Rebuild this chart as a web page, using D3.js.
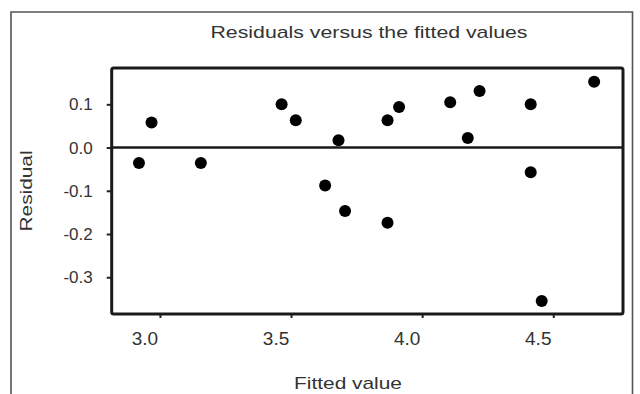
<!DOCTYPE html>
<html>
<head>
<meta charset="utf-8">
<script src="https://cdn.jsdelivr.net/npm/d3@7"></script>
<style>
  html, body { margin: 0; padding: 0; background: #fff; }
  svg { display: block; }
  text { font-family: "Liberation Sans", Arial, sans-serif; fill: #333; }
</style>
</head>
<body>
<svg id="chart" width="640" height="394"></svg>
<script>
const titleText = "Residuals versus the fitted values";
const xLabel = "Fitted value";
const yLabel = "Residual";
const fitted = [2.920, 2.968, 3.156, 3.464, 3.518, 3.630, 3.681, 3.706, 3.868, 3.868, 3.912, 4.107, 4.174, 4.219, 4.414, 4.414, 4.456, 4.656];
const residual = [-0.036, 0.058, -0.036, 0.100, 0.063, -0.088, 0.017, -0.147, -0.174, 0.063, 0.094, 0.105, 0.022, 0.131, 0.100, -0.057, -0.355, 0.152];
const xTicks = [3.0, 3.5, 4.0, 4.5];
const yTicks = [0.1, 0.0, -0.1, -0.2, -0.3];
const xDomain = [2.816, 4.766];
const yDomain = [-0.385, 0.184];

const svg = d3.select("#chart");
const L = 111.7, R = 623, T = 68, B = 314;
const x = d3.scaleLinear().domain(xDomain).range([L, R]);
const y = d3.scaleLinear().domain(yDomain).range([B, T]);
const fmt = d => d.toFixed(1);

// outer frame
svg.append("path")
  .attr("d", "M11,394 V12 H632.5 V394")
  .attr("fill", "none").attr("stroke", "#555").attr("stroke-width", 1.6);

// title
svg.append("text").attr("x", 369).attr("y", 38)
  .attr("text-anchor", "middle").attr("font-size", 17)
  .attr("textLength", 317).attr("lengthAdjust", "spacingAndGlyphs")
  .text(titleText);

// axes
const xAxis = svg.append("g").attr("transform", `translate(0,${B})`)
  .call(d3.axisBottom(x).tickValues(xTicks).tickFormat(fmt).tickSizeInner(4).tickSizeOuter(0));
const yAxis = svg.append("g").attr("transform", `translate(${L},0)`)
  .call(d3.axisLeft(y).tickValues(yTicks).tickFormat(fmt).tickSizeInner(5).tickSizeOuter(0));
[xAxis, yAxis].forEach(g => {
  g.select(".domain").remove();
  g.selectAll(".tick line").attr("stroke", "#222").attr("stroke-width", 2);
  g.selectAll(".tick text").attr("fill", "#333")
    .style("font-family", "'Liberation Sans', Arial, sans-serif");
});
xAxis.selectAll(".tick text").attr("font-size", 19).attr("dx", -15.5).attr("y", 31).attr("dy", 0);
yAxis.selectAll(".tick text").attr("font-size", 17).attr("x", -19);

// zero line
svg.append("line").attr("x1", L).attr("x2", R).attr("y1", y(0)).attr("y2", y(0))
  .attr("stroke", "#1a1a1a").attr("stroke-width", 2.6);

// plot box
svg.append("rect").attr("x", L).attr("y", T).attr("width", R - L).attr("height", B - T)
  .attr("rx", 2).attr("fill", "none").attr("stroke", "#1a1a1a").attr("stroke-width", 3);

// points
svg.append("g").selectAll("circle").data(fitted.map((f, i) => [f, residual[i]]))
  .join("circle")
  .attr("cx", d => x(d[0])).attr("cy", d => y(d[1])).attr("r", 6)
  .attr("fill", "#000");

// axis labels
svg.append("text").attr("x", 348).attr("y", 389)
  .attr("text-anchor", "middle").attr("font-size", 17)
  .attr("textLength", 108).attr("lengthAdjust", "spacingAndGlyphs")
  .text(xLabel);
svg.append("text").attr("transform", "translate(32,191) rotate(-90)")
  .attr("text-anchor", "middle").attr("font-size", 17)
  .attr("textLength", 81).attr("lengthAdjust", "spacingAndGlyphs")
  .text(yLabel);
</script>
</body>
</html>
